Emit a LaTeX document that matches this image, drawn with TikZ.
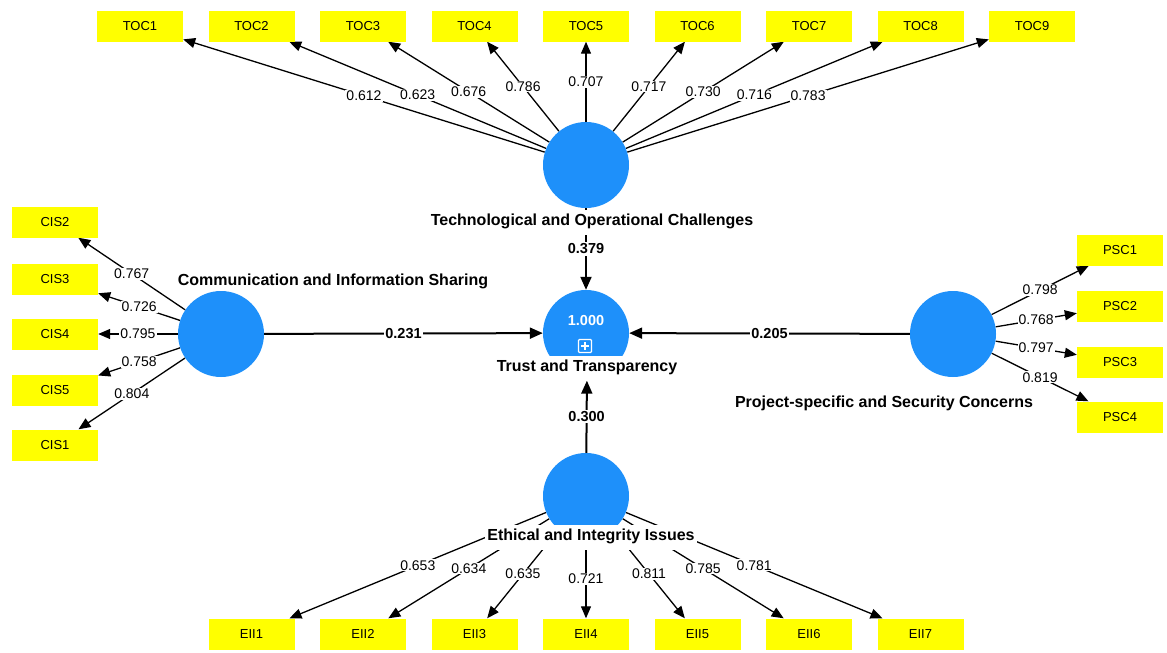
\documentclass[tikz,border=0pt]{standalone}
\usepackage{fontspec}
\setmainfont{Liberation Sans}
\usetikzlibrary{arrows.meta}
\definecolor{lvblue}{RGB}{30,144,250}
\definecolor{mvyellow}{RGB}{255,255,0}
\pgfdeclarelayer{bg}
\pgfsetlayers{bg,main}
\begin{document}
\begin{tikzpicture}[x=1pt,y=-1pt,
  lv/.style={circle,fill=lvblue,draw=none,minimum size=86pt,inner sep=0pt},
  mv/.style={rectangle,fill=mvyellow,minimum width=86pt,minimum height=31pt,inner sep=0pt,font=\fontsize{13}{15}\selectfont},
  lvlabel/.style={fill=white,inner xsep=2pt,inner ysep=5pt,text height=11pt,text depth=4pt,font=\bfseries\fontsize{16}{18}\selectfont},
  loadedge/.style={-{Triangle[length=12pt,width=10pt]},line width=1.3pt,black},
  pathedge/.style={-{Triangle[length=13pt,width=11pt]},line width=2pt,black},
  lw/.style={fill=white,inner sep=1pt,font=\fontsize{14}{16}\selectfont,pos=0.5},
  pw/.style={fill=white,inner sep=1.5pt,font=\bfseries\fontsize{14.5}{16}\selectfont,pos=0.5}
]
\useasboundingbox (0,0) rectangle (1167,653);

% latent variables
\node[lv] (toc) at (586,165) {};
\node[lv] (cis) at (221,334) {};
\node[lv] (psc) at (953,334) {};
\node[lv] (trust) at (586,333) {};
\node[lv] (eii) at (586,496) {};

% indicators
\foreach \i in {1,...,9}
  \node[mv] (toc\i) at ({140+111.5*(\i-1)},26) {TOC\i};
\node[mv] (cis2) at (55,222) {CIS2};
\node[mv] (cis3) at (55,279) {CIS3};
\node[mv] (cis4) at (55,334) {CIS4};
\node[mv] (cis5) at (55,390) {CIS5};
\node[mv] (cis1) at (55,445) {CIS1};
\node[mv] (psc1) at (1120,250) {PSC1};
\node[mv] (psc2) at (1120,306) {PSC2};
\node[mv] (psc3) at (1120,362) {PSC3};
\node[mv] (psc4) at (1120,417) {PSC4};
\foreach \i in {1,...,7}
  \node[mv] (eii\i) at ({251.5+111.5*(\i-1)},634) {EII\i};

% labels of latent variables
\node[lvlabel] (tocl) at (592,222) {Technological and Operational Challenges};
\node[lvlabel] (trustl) at (587,368) {Trust and Transparency};
\node[lvlabel] (eiil) at (591,537) {Ethical and Integrity Issues};
\node[font=\bfseries\fontsize{16}{18}\selectfont] (cisl) at (333,281) {Communication and Information Sharing};
\node[font=\bfseries\fontsize{16}{18}\selectfont] (pscl) at (884,403) {Project-specific and Security Concerns};

% R2 and icon
\node[text=white,font=\bfseries\fontsize{14.5}{16}\selectfont] (r2) at (586,321) {1.000};
\node[draw=white,line width=1.2pt,minimum size=13pt,inner sep=0pt,rounded corners=1pt] (icon) at (585,346) {};
\draw[white,line width=1.2pt] ([yshift=-3pt]icon.north) -- ([yshift=3pt]icon.south)
  ([xshift=3pt]icon.west) -- ([xshift=-3pt]icon.east);

\begin{pgfonlayer}{bg}
\foreach \i/\v in {1/0.612,2/0.623,3/0.676,4/0.786,5/0.707,6/0.717,7/0.730,8/0.716,9/0.783}
  \draw[loadedge] (toc) -- node[lw]{\v} (toc\i);
\foreach \i/\v in {2/0.767,3/0.726,4/0.795,5/0.758,1/0.804}
  \draw[loadedge] (cis) -- node[lw]{\v} (cis\i);
\foreach \i/\v in {1/0.798,2/0.768,3/0.797,4/0.819}
  \draw[loadedge] (psc) -- node[lw]{\v} (psc\i);
\foreach \i/\v in {1/0.653,2/0.634,3/0.635,4/0.721,5/0.811,6/0.785,7/0.781}
  \draw[loadedge] (eii) -- node[lw]{\v} (eii\i);
\draw[pathedge] (cis) -- node[pw]{0.231} (trust);
\draw[pathedge] (psc) -- node[pw]{0.205} (trust);
\draw[pathedge] (toc) -- node[pw]{0.379} (trust);
\draw[pathedge] (eii) -- node[pw]{0.300} (trustl);
\end{pgfonlayer}
\end{tikzpicture}
\end{document}
